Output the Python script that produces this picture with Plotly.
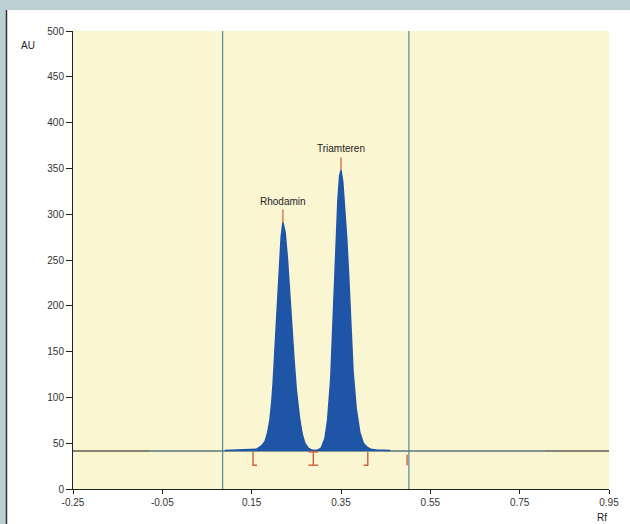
import plotly.graph_objects as go

# ---------------- data ----------------
x_ticks = [-0.25, -0.05, 0.15, 0.35, 0.55, 0.75, 0.95]
y_ticks = [0, 50, 100, 150, 200, 250, 300, 350, 400, 450, 500]

baseline_au = 41.5
baseline_rf = [-0.25, 0.95]
scan_rf = [-0.078, 0.807]          # lighter scan-trace segment over baseline
window_rf = [0.085, 0.502]         # vertical track-window lines

trace_rf = [0.090, 0.120, 0.150, 0.161, 0.172, 0.180, 0.186, 0.191, 0.195,
            0.198, 0.203, 0.207, 0.212, 0.216, 0.220, 0.225, 0.230, 0.236,
            0.241, 0.245, 0.250, 0.257, 0.263, 0.269, 0.276, 0.284, 0.292,
            0.298, 0.306, 0.314, 0.320, 0.327, 0.330, 0.333, 0.336, 0.339,
            0.343, 0.347, 0.350, 0.354, 0.358, 0.363, 0.367, 0.370, 0.374,
            0.377, 0.384, 0.392, 0.400, 0.410, 0.419, 0.430, 0.460]
trace_au = [42.0, 42.5, 43.0, 43.5, 47, 52, 62, 76, 95,
            115, 160, 200, 245, 275, 291, 280, 252, 212,
            170, 140, 108, 78, 60, 50, 45, 42.5, 42.0,
            42.5, 45, 55, 75, 120, 155, 195, 235, 270,
            315, 342, 348, 335, 310, 272, 235, 200, 160,
            128, 88, 62, 50, 45, 43, 42.5, 42.0]

peak_names = ["Rhodamin", "Triamteren"]
peak_rf = [0.220, 0.350]
peak_au = [291, 348]

bound_rf = [0.153, 0.288, 0.410, 0.498]
bound_kind = ["start", "split", "end", "mark"]

# ---------------- styling ----------------
YELLOW = "#fbf6d2"
BLUE = "#1f55a6"
TEAL = "#4e8b98"
RED = "#cf5d3c"
STRIP = "#bcd0d4"
FONT = "Liberation Sans"

fig = go.Figure()

# black baseline across the whole plot
fig.add_trace(go.Scatter(x=baseline_rf, y=[baseline_au] * 2, mode="lines",
                         line=dict(color="#111111", width=1), hoverinfo="skip"))
# lighter scan trace over the baseline
fig.add_trace(go.Scatter(x=scan_rf, y=[baseline_au] * 2, mode="lines",
                         line=dict(color="#7fa9b3", width=1), hoverinfo="skip"))

# filled chromatogram
fig.add_trace(go.Scatter(x=[trace_rf[0], trace_rf[-1]], y=[baseline_au] * 2,
                         mode="lines", line=dict(width=0, color=BLUE),
                         hoverinfo="skip"))
fig.add_trace(go.Scatter(x=trace_rf, y=trace_au, mode="lines",
                         line=dict(color=BLUE, width=1.5), fill="tonexty",
                         fillcolor=BLUE, hoverinfo="skip"))

# track window vertical lines
for r in window_rf:
    fig.add_trace(go.Scatter(x=[r, r], y=[0, 500], mode="lines",
                             line=dict(color=TEAL, width=1.2), hoverinfo="skip"))

# red peak ticks and labels
for name, r, a in zip(peak_names, peak_rf, peak_au):
    fig.add_trace(go.Scatter(x=[r, r], y=[a, a + 14], mode="lines",
                             line=dict(color=RED, width=1.2), hoverinfo="skip"))
    fig.add_annotation(x=r, y=a + 15, text=name, showarrow=False,
                       yanchor="bottom", yshift=0,
                       font=dict(family=FONT, size=10, color="#222222"))

# red integration boundary marks
top_au, bot_au = 40.5, 26.0
foot = 0.009
for r, k in zip(bound_rf, bound_kind):
    if k == "start":
        xs, ys = [r, r, r + foot], [top_au, bot_au, bot_au]
    elif k == "end":
        xs, ys = [r, r, r - foot], [top_au, bot_au, bot_au]
    elif k == "split":
        xs = [r - 0.011, r + 0.011, None, r, r, None, r - 0.011, r + 0.011]
        ys = [top_au, top_au, None, top_au, bot_au, None, bot_au, bot_au]
    else:
        xs, ys = [r, r], [top_au - 3, bot_au]
    fig.add_trace(go.Scatter(x=xs, y=ys, mode="lines",
                             line=dict(color=RED, width=1.4), hoverinfo="skip"))

# page decoration: top and left blue-grey strips and dark edge line
shapes = [
    dict(type="rect", xref="paper", yref="paper", x0=-0.2, x1=1.1,
         y0=1.0459, y1=1.1, fillcolor=STRIP, line=dict(width=0), layer="below"),
    dict(type="rect", xref="paper", yref="paper", x0=-0.2, x1=-0.1250,
         y0=-0.1, y1=1.1, fillcolor=STRIP, line=dict(width=0), layer="below"),
    dict(type="line", xref="paper", yref="paper", x0=-0.1241, x1=-0.1241,
         y0=-0.1, y1=1.0459, line=dict(color="#333333", width=1.5)),
]

fig.add_annotation(xref="paper", yref="paper", x=-0.0840, y=0.969,
                   xanchor="center", yanchor="middle",
                   text="AU", showarrow=False,
                   font=dict(family=FONT, size=10, color="#222222"))
fig.add_annotation(xref="paper", yref="paper", x=0.987, y=-0.0620,
                   xanchor="center", yanchor="middle",
                   text="Rf", showarrow=False,
                   font=dict(family=FONT, size=10, color="#222222"))

fig.update_layout(
    width=630, height=524,
    margin=dict(l=73, r=21, t=31, b=35),
    paper_bgcolor="white",
    plot_bgcolor=YELLOW,
    showlegend=False,
    shapes=shapes,
    font=dict(family=FONT, size=10, color="#333333"),
)
fig.update_xaxes(range=[-0.25, 0.95], tickvals=x_ticks,
                 ticktext=[f"{v:.2f}" for v in x_ticks],
                 showgrid=False, zeroline=False, showline=True,
                 linecolor="#222222", linewidth=1, ticks="outside",
                 ticklen=4, tickcolor="#222222", automargin=False,
                 tickfont=dict(family=FONT, size=10, color="#333333"))
fig.update_yaxes(range=[0, 500], tickvals=y_ticks,
                 showgrid=False, zeroline=False, showline=True,
                 linecolor="#222222", linewidth=1, ticks="outside",
                 ticklen=6, tickcolor="#222222", automargin=False,
                 tickfont=dict(family=FONT, size=10, color="#333333"))

fig.write_html("out.html")
